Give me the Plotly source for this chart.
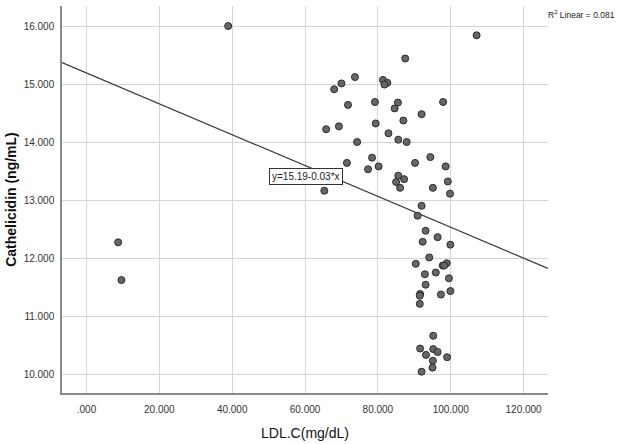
import plotly.graph_objects as go

# LDL.C (mg/dL) and Cathelicidin (ng/mL)
ldl = [38.9, 107.1, 8.7, 9.6, 87.5, 73.7, 81.4, 82.6, 81.8, 70.0,
       68.0, 71.8, 79.2, 85.5, 84.6, 97.9, 92.0, 87.0, 79.4, 65.8,
       69.3, 82.9, 85.6, 87.9, 74.3, 78.4, 94.4, 71.5, 80.2, 77.3,
       90.2, 98.6, 85.6, 87.2, 85.0, 99.2, 86.1, 95.1, 99.8, 65.3,
       92.0, 90.9, 93.1, 96.4, 92.3, 99.9, 94.1, 90.4, 98.9, 97.8,
       98.2, 92.9, 95.9, 99.5, 93.1, 91.6, 91.5, 97.3, 99.9, 91.5,
       95.2, 91.6, 95.2, 96.4, 93.2, 99.0, 95.1, 95.0, 92.0]
cath = [16.00, 15.84, 12.27, 11.62, 15.44, 15.12, 15.07, 15.02, 14.99, 15.01,
        14.91, 14.64, 14.69, 14.68, 14.58, 14.69, 14.48, 14.37, 14.32, 14.22,
        14.27, 14.15, 14.04, 14.00, 14.00, 13.73, 13.74, 13.64, 13.58, 13.53,
        13.64, 13.58, 13.42, 13.36, 13.31, 13.32, 13.21, 13.21, 13.11, 13.16,
        12.90, 12.73, 12.47, 12.36, 12.28, 12.23, 12.01, 11.90, 11.91, 11.87,
        11.87, 11.72, 11.75, 11.65, 11.54, 11.38, 11.35, 11.37, 11.43, 11.21,
        10.66, 10.44, 10.43, 10.38, 10.33, 10.29, 10.23, 10.11, 10.04]

# Fit line parameters (as drawn) and labels
INTERCEPT = 15.19
SLOPE = -0.0266
EQUATION_LABEL = "y=15.19-0.03*x"
R2_LABEL = "R<sup>2</sup> Linear = 0.081"

x_tickvals = [0, 20, 40, 60, 80, 100, 120]
x_ticktext = [".000", "20.000", "40.000", "60.000", "80.000", "100.000", "120.000"]
y_tickvals = [10, 11, 12, 13, 14, 15, 16]
y_ticktext = ["10.000", "11.000", "12.000", "13.000", "14.000", "15.000", "16.000"]

X_RANGE = [-6.72, 126.7]
Y_RANGE = [9.673, 16.345]

line_x = X_RANGE
line_y = [INTERCEPT + SLOPE * v for v in line_x]

sans = "Liberation Sans, Arial, sans-serif"

fig = go.Figure()
fig.add_trace(go.Scatter(
    x=line_x, y=line_y, mode="lines",
    line=dict(color="#333333", width=1.2),
    hoverinfo="skip", showlegend=False,
))
fig.add_trace(go.Scatter(
    x=ldl, y=cath, mode="markers",
    marker=dict(size=7, color="#666666", line=dict(color="#2b2b2b", width=1)),
    showlegend=False,
))

fig.add_annotation(
    x=60.2, y=13.40, xref="x", yref="y", text=EQUATION_LABEL, showarrow=False,
    font=dict(family=sans, size=10, color="#222222"),
    bgcolor="white", bordercolor="#333333", borderwidth=1, borderpad=2,
)
fig.add_annotation(
    x=1.142, y=0.978, xref="paper", yref="paper", text=R2_LABEL, showarrow=False,
    xanchor="right", yanchor="middle",
    font=dict(family=sans, size=8.5, color="#222222"),
)

fig.update_layout(
    width=619, height=444,
    margin=dict(l=62, r=71, t=6, b=51, pad=0),
    paper_bgcolor="white", plot_bgcolor="white",
    xaxis=dict(
        range=X_RANGE, tickvals=x_tickvals, ticktext=x_ticktext,
        showgrid=True, gridcolor="#d4d4d4", gridwidth=1.2,
        zeroline=False, showline=True, linecolor="#8a8a8a", linewidth=1.5,
        ticks="", ticklabelstandoff=6,
        tickfont=dict(family=sans, size=10, color="#333333"),
        title=dict(text="LDL.C(mg/dL)", standoff=14,
                   font=dict(family=sans, size=14, color="#111111")),
    ),
    yaxis=dict(
        range=Y_RANGE, tickvals=y_tickvals, ticktext=y_ticktext,
        showgrid=True, gridcolor="#d4d4d4", gridwidth=1.2,
        zeroline=False, showline=True, linecolor="#8a8a8a", linewidth=1.5,
        ticks="", ticklabelstandoff=4,
        tickfont=dict(family=sans, size=10, color="#333333"),
        title=dict(text="<b>Cathelicidin (ng/mL)</b>", standoff=4,
                   font=dict(family=sans, size=14, color="#111111")),
    ),
)

fig.write_html("out.html")
